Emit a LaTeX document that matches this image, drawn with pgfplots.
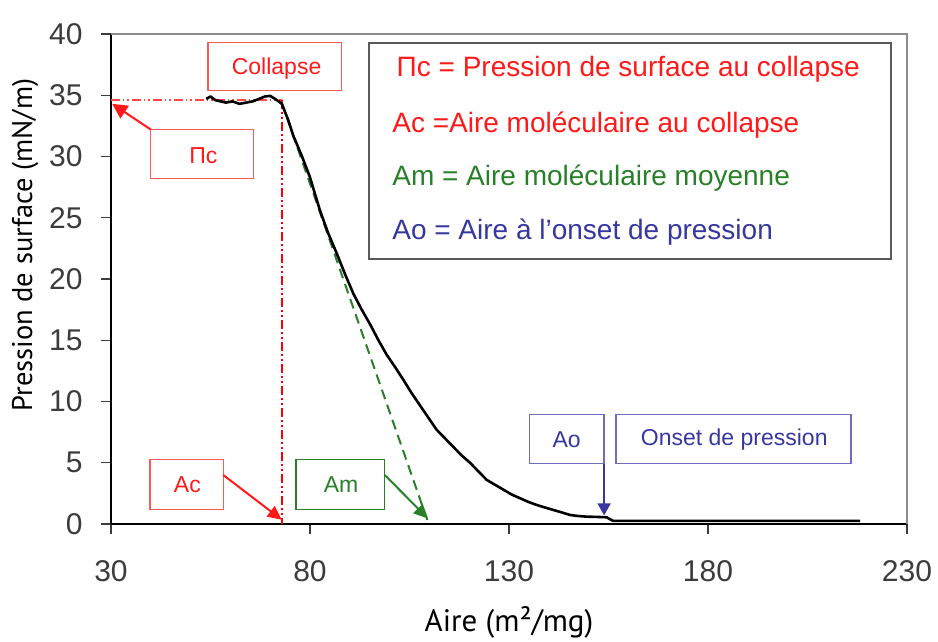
\documentclass[border=0pt]{standalone}
\usepackage{fontspec}
\setmainfont{Liberation Sans}
\newfontfamily\labelfont{PT Sans}
\usepackage{pgfplots}
\pgfplotsset{compat=1.18}
\usetikzlibrary{arrows.meta}
\definecolor{myred}{RGB}{255,25,25}
\definecolor{boxred}{RGB}{255,90,90}
\definecolor{mygreen}{RGB}{40,128,40}
\definecolor{myblue}{RGB}{55,55,160}
\definecolor{boxblue}{RGB}{110,110,190}
\definecolor{ticktext}{RGB}{60,60,60}
\definecolor{frame}{RGB}{140,140,140}
\definecolor{legframe}{RGB}{90,90,90}

\pgfplotstableread{
x y
53.9 34.7
55.0 34.9
56.2 34.6
58.9 34.4
60.5 34.5
62.3 34.3
65.6 34.5
68.7 34.9
70.0 34.95
71.7 34.6
72.9 34.3
74.5 33.0
75.8 31.7
78.0 30.0
80.0 28.3
82.5 25.6
84.5 23.8
86.7 22.1
88.8 20.4
90.9 18.8
93.0 17.5
95.1 16.3
97.2 15.0
99.3 13.8
101.4 12.8
103.4 11.8
105.5 10.7
107.6 9.7
109.7 8.7
111.8 7.7
113.9 7.0
116.0 6.3
118.1 5.6
120.2 5.0
122.3 4.3
124.4 3.6
126.5 3.2
128.6 2.8
130.7 2.4
132.8 2.1
134.9 1.8
137.0 1.55
139.0 1.35
141.1 1.15
143.2 0.95
145.3 0.74
147.4 0.65
149.5 0.6
152.0 0.58
154.5 0.55
156.2 0.25
170.0 0.25
190.0 0.25
218.2 0.25
}\isotherm

\begin{document}
\begin{tikzpicture}
\begin{axis}[
  at={(0,0)}, anchor=south west,
  scale only axis, width=796pt, height=490pt,
  xmin=30, xmax=230, ymin=0, ymax=40,
  xtick={30,80,...,230}, ytick={0,5,...,40},
  axis x line*=bottom, axis y line*=left,
  tick align=outside, major tick length=10pt,
  tick style={line width=1.2pt, color=ticktext},
  axis line style={line width=1.6pt, color=black, -},
  /pgf/number format/assume math mode=true,
  tick label style={font=\fontsize{30}{30}\selectfont, text=ticktext},
  xticklabel style={yshift=-23pt},
  yticklabel style={xshift=-15pt},
  clip=false,
  ylabel={Pression de surface (mN/m)},
  xlabel={Aire (m²/mg)},
  ylabel style={font=\labelfont\fontsize{28.5}{28.5}\selectfont, text=black,
    at={(axis description cs:-0.108,0.569)}, anchor=center},
  xlabel style={font=\labelfont\fontsize{31}{31}\selectfont, text=black,
    at={(axis description cs:0.5,-0.2204)}, anchor=base},
]
% plot-area frame (top and right)
\draw[frame, line width=1.6pt] (rel axis cs:0,1) -- (rel axis cs:1,1) -- (rel axis cs:1,0);

% red dash-dot guides
\addplot[myred!80, line width=1.4pt, dash pattern=on 9pt off 3pt on 1.5pt off 3pt on 1.5pt off 3pt]
  coordinates {(30,34.6) (72.9,34.6)};
\addplot[red, line width=1.8pt, dash pattern=on 9pt off 3pt on 2pt off 3pt on 2pt off 3pt]
  coordinates {(72.9,34.6) (72.9,0)};
% green tangent
\addplot[mygreen, line width=2pt, dash pattern=on 10pt off 6pt]
  coordinates {(72.9,34.4) (109.5,0.3)};
% isotherm
\addplot[black, line width=2.6pt, line join=round] table[x=x, y=y] {\isotherm};

% legend box
\draw[legframe, line width=2pt, fill=white] (axis cs:94.9,21.6) rectangle (axis cs:226.1,39.3);
\node[anchor=west, text=myred, font=\fontsize{28}{28}\selectfont] at (axis cs:100.9,37.1) {Πc = Pression de surface au collapse};
\node[anchor=west, text=myred, font=\fontsize{28}{28}\selectfont] at (axis cs:99.8,32.6) {Ac =Aire moléculaire au collapse};
\node[anchor=west, text=mygreen, font=\fontsize{28}{28}\selectfont] at (axis cs:99.8,28.2) {Am = Aire moléculaire moyenne};
\node[anchor=west, text=myblue, font=\fontsize{28}{28}\selectfont] at (axis cs:99.8,23.8) {Ao = Aire à l’onset de pression};

% Collapse box
\draw[boxred, line width=1.3pt, fill=white] (axis cs:54.4,35.4) rectangle (axis cs:88.0,39.3);
\node[text=myred, font=\fontsize{23}{23}\selectfont] at (axis cs:71.6,37.2) {Collapse};
% Pi c box
\draw[boxred, line width=1.3pt, fill=white] (axis cs:40.0,28.2) rectangle (axis cs:65.8,32.2);
\node[text=myred, font=\fontsize{23}{23}\selectfont] at (axis cs:53.2,30.1) {Πc};
\draw[myred, line width=2pt, -{Triangle[length=15pt,width=15pt]}] (axis cs:40.0,32.2) -- (axis cs:30.3,34.3);
% Ac box
\draw[boxred, line width=1.3pt, fill=white] (axis cs:39.8,1.2) rectangle (axis cs:58.2,5.25);
\node[text=myred, font=\fontsize{23}{23}\selectfont] at (axis cs:49.2,3.2) {Ac};
\draw[myred, line width=2pt, -{Triangle[length=14pt,width=13pt]}] (axis cs:58.2,4.0) -- (axis cs:72.9,0.35);
% Am box
\draw[mygreen, line width=1.3pt, fill=white] (axis cs:76.5,1.2) rectangle (axis cs:98.8,5.25);
\node[text=mygreen, font=\fontsize{23}{23}\selectfont] at (axis cs:87.8,3.2) {Am};
\draw[mygreen, line width=2pt, -{Triangle[length=14pt,width=13pt]}] (axis cs:98.8,4.0) -- (axis cs:109.6,0.45);
% Ao box
\draw[boxblue, line width=1.3pt, fill=white] (axis cs:135.1,4.92) rectangle (axis cs:153.9,8.93);
\node[text=myblue, font=\fontsize{23}{23}\selectfont] at (axis cs:144.5,6.9) {Ao};
\draw[myblue, line width=1.5pt, -{Triangle[length=12pt,width=13pt]}] (axis cs:153.9,4.92) -- (axis cs:153.9,0.7);
% Onset box
\draw[boxblue, line width=1.3pt, fill=white] (axis cs:156.9,4.92) rectangle (axis cs:215.9,8.93);
\node[text=myblue, font=\fontsize{23}{23}\selectfont] at (axis cs:186.6,6.9) {Onset de pression};
\end{axis}
\pgfresetboundingbox
\path (-111pt,-117pt) rectangle (827pt,524pt);
\end{tikzpicture}
\end{document}
